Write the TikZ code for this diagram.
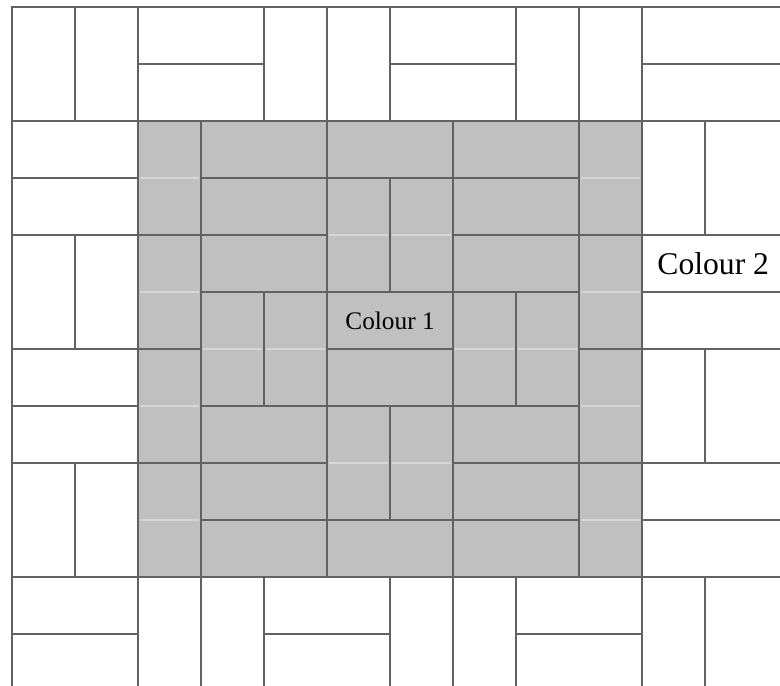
\documentclass[tikz,border=0pt]{standalone}
\usepackage{fontspec}
\setmainfont{Liberation Serif}
\usetikzlibrary{positioning}
\definecolor{cgrout}{HTML}{626262}
\definecolor{cfill}{HTML}{C0C0C0}
\definecolor{cghost}{HTML}{D6D6D6}
\tikzset{
  every picture/.style={line width=1.7pt},
  tile/.style={draw=cgrout, fill=#1},
  tile/.default=white,
  ghost/.style={draw=cghost, line width=1.1pt, shorten <=1.2pt, shorten >=1.2pt},
  tiletext/.style={inner sep=0pt, text=black},
}

\begin{document}
\begin{tikzpicture}[x=1.575cm, y=-1.425cm]
  \useasboundingbox (-0.1905,-0.1228) rectangle (12.19,11.895);
  \clip (-0.1905,-0.1228) rectangle (12.19,11.895);
  % outer basket weave, white
  \foreach \i in {0,...,5}{
    \foreach \j in {0,...,5}{
      \pgfmathtruncatemacro{\inner}{(\i>0)&&(\i<5)&&(\j>0)&&(\j<5)}
      \pgfmathtruncatemacro{\vv}{mod(\i+\j,2)==0}
      \pgfmathsetmacro{\w}{\i==5 ? 2.5 : 2}
      \ifnum\inner=0
        \ifnum\vv=1
          \draw[tile] (2*\i,2*\j) rectangle ++(1,2) (2*\i+1,2*\j) rectangle ++(\w-1,2);
        \else
          \draw[tile] (2*\i,2*\j) rectangle ++(\w,1) (2*\i,2*\j+1) rectangle ++(\w,1);
        \fi
      \fi
    }
  }
  % inner panel, grey
  \foreach \c in {2,9}{
    \foreach \r in {2,4,6,8}{
      \draw[tile=cfill] (\c,\r) rectangle ++(1,2);
      \draw[ghost] (\c,\r+1) -- ++(1,0);
    }
  }
  \foreach \c in {3,5,7}{
    \draw[tile=cfill] (\c,2) rectangle ++(2,1);
    \draw[tile=cfill] (\c,9) rectangle ++(2,1);
  }
  \foreach \i in {0,1,2}{
    \foreach \j in {0,1,2}{
      \pgfmathtruncatemacro{\vv}{mod(\i+\j,2)==1}
      \ifnum\vv=1
        \draw[tile=cfill] (3+2*\i,3+2*\j) rectangle ++(1,2) (4+2*\i,3+2*\j) rectangle ++(1,2);
        \draw[ghost] (3+2*\i,4+2*\j) -- ++(1,0);
        \draw[ghost] (4+2*\i,4+2*\j) -- ++(1,0);
      \else
        \draw[tile=cfill] (3+2*\i,3+2*\j) rectangle ++(2,1) (3+2*\i,4+2*\j) rectangle ++(2,1);
      \fi
    }
  }
  \node[tiletext, font=\fontsize{18}{20}\selectfont] (colour1) at (6,5.5) {Colour 1};
  \node[tiletext, font=\fontsize{22.5}{26}\selectfont] (colour2) at (11.13,4.5) {Colour 2};
\end{tikzpicture}
\end{document}
